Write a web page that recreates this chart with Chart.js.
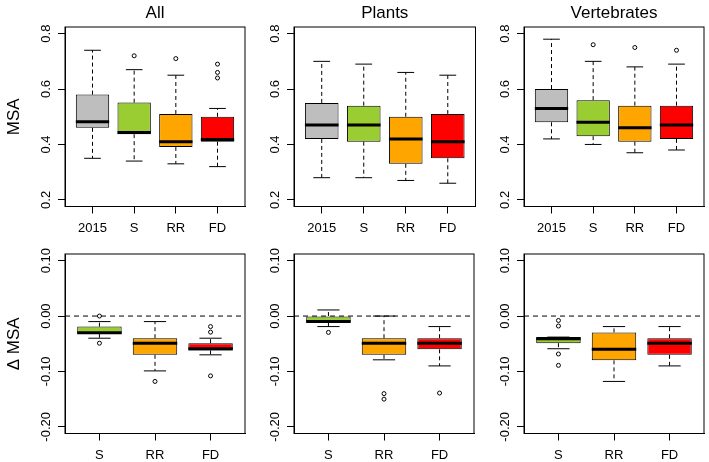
<!DOCTYPE html>
<html><head><meta charset="utf-8">
<script src="https://cdn.jsdelivr.net/npm/chart.js@4"></script>
<style>
html,body{margin:0;padding:0;background:#fff;overflow:hidden;width:709px;height:462px}
canvas{position:absolute}
</style></head><body>
<script>
// ---------- DATA ----------
const panelTitles = ['All', 'Plants', 'Vertebrates'];
const topCategories = ['2015', 'S', 'RR', 'FD'];
const bottomCategories = ['S', 'RR', 'FD'];
const topTicks = [0.2, 0.4, 0.6, 0.8];
const bottomTicks = [-0.2, -0.1, 0.0, 0.1];
const topYLabel = 'MSA';
const bottomYLabel = '\u0394 MSA';

// each box: [lower whisker, Q1, median, Q3, upper whisker]
const msaAll        = [[0.35, 0.46, 0.482, 0.58, 0.74], [0.34, 0.437, 0.443, 0.551, 0.67], [0.33, 0.391, 0.41, 0.51, 0.65], [0.32, 0.41, 0.418, 0.50, 0.53]];
const msaAllOut     = [[], [0.72], [0.71], [0.69, 0.66, 0.64]];
const msaPlants     = [[0.28, 0.42, 0.47, 0.55, 0.70], [0.28, 0.41, 0.47, 0.54, 0.69], [0.27, 0.33, 0.42, 0.50, 0.66], [0.26, 0.35, 0.41, 0.51, 0.65]];
const msaPlantsOut  = [[], [], [], []];
const msaVert       = [[0.42, 0.48, 0.53, 0.60, 0.78], [0.40, 0.43, 0.48, 0.56, 0.70], [0.37, 0.41, 0.46, 0.54, 0.68], [0.38, 0.42, 0.47, 0.54, 0.69]];
const msaVertOut    = [[], [0.76], [0.75], [0.74]];

const dAll          = [[-0.040, -0.032, -0.030, -0.019, -0.010], [-0.099, -0.070, -0.049, -0.040, -0.010], [-0.070, -0.062, -0.059, -0.049, -0.040]];
const dAllOut       = [[0.0, -0.049], [-0.118], [-0.019, -0.029, -0.108]];
const dPlants       = [[-0.019, -0.012, -0.010, 0.0, 0.011], [-0.079, -0.070, -0.049, -0.040, 0.0], [-0.090, -0.060, -0.049, -0.040, -0.019]];
const dPlantsOut    = [[-0.0295], [-0.140, -0.150], [-0.139]];
const dVert         = [[-0.059, -0.049, -0.041, -0.038, -0.038], [-0.118, -0.080, -0.060, -0.0295, -0.019], [-0.090, -0.070, -0.049, -0.040, -0.019]];
const dVertOut      = [[-0.008, -0.018, -0.0685, -0.089], [], []];

const boxColors = {'2015': '#bebebe', 'S': '#9acd32', 'RR': '#ffa500', 'FD': '#ff0000'};

// ---------- LAYOUT ----------
const FONT = "'Liberation Sans', Arial, sans-serif";
const colLeft = [0, 229, 459];
const rowTop = [0, 227];
const CW = 250, CH = 235;

function makePanel(col, row, cats, stats, outs, ticks, yRange, yLabel, title, zeroLine, fmt) {
  const cv = document.createElement('canvas');
  cv.width = CW; cv.height = CH;
  cv.style.left = colLeft[col] + 'px';
  cv.style.top = rowTop[row] + 'px';
  cv.style.width = CW + 'px'; cv.style.height = CH + 'px';
  document.body.appendChild(cv);

  const boxData = stats.map((s, i) => ({x: i + 1, y: [s[1], s[3]]}));
  const outData = [];
  outs.forEach((arr, i) => arr.forEach(v => outData.push({x: i + 1, y: v})));
  const n = cats.length;
  const xmin = 0.5 - n * 0.04, xmax = n + 0.5 + n * 0.04;

  const plugin = {
    id: 'boxextras',
    beforeDatasetsDraw(chart) {
      const {ctx, chartArea: a, scales: {x, y}} = chart;
      ctx.save();
      ctx.beginPath(); ctx.rect(a.left, a.top, a.right - a.left, a.bottom - a.top); ctx.clip();
      ctx.strokeStyle = '#000'; ctx.lineWidth = 1;
      if (zeroLine) {
        ctx.setLineDash([5, 4]);
        const py = y.getPixelForValue(0);
        ctx.beginPath(); ctx.moveTo(a.left, py); ctx.lineTo(a.right, py); ctx.stroke();
      }
      stats.forEach((s, i) => {
        const cx = x.getPixelForValue(i + 1);
        const sl = x.getPixelForValue(i + 1 - 0.2), sr = x.getPixelForValue(i + 1 + 0.2);
        ctx.setLineDash([4, 3]);
        ctx.beginPath();
        ctx.moveTo(cx, y.getPixelForValue(s[3])); ctx.lineTo(cx, y.getPixelForValue(s[4]));
        ctx.moveTo(cx, y.getPixelForValue(s[1])); ctx.lineTo(cx, y.getPixelForValue(s[0]));
        ctx.stroke();
        ctx.setLineDash([]);
        ctx.beginPath();
        ctx.moveTo(sl, y.getPixelForValue(s[4])); ctx.lineTo(sr, y.getPixelForValue(s[4]));
        ctx.moveTo(sl, y.getPixelForValue(s[0])); ctx.lineTo(sr, y.getPixelForValue(s[0]));
        ctx.stroke();
      });
      ctx.restore();
    },
    afterDatasetsDraw(chart) {
      const {ctx, scales: {x, y}} = chart;
      ctx.save();
      ctx.strokeStyle = '#000'; ctx.lineWidth = 3; ctx.lineCap = 'butt';
      stats.forEach((s, i) => {
        const l = x.getPixelForValue(i + 1 - 0.4), r = x.getPixelForValue(i + 1 + 0.4);
        const py = y.getPixelForValue(s[2]);
        ctx.beginPath(); ctx.moveTo(l, py); ctx.lineTo(r, py); ctx.stroke();
      });
      ctx.restore();
    },
    afterDraw(chart) {
      const {ctx, chartArea: a, scales: {y}} = chart;
      ctx.save();
      ctx.strokeStyle = '#000'; ctx.lineWidth = 1;
      ctx.strokeRect(a.left, a.top, a.right - a.left, a.bottom - a.top);
      ctx.fillStyle = '#000';
      ctx.font = '13px ' + FONT;
      ctx.textAlign = 'center'; ctx.textBaseline = 'alphabetic';
      ticks.forEach(t => {
        const py = y.getPixelForValue(t);
        ctx.save(); ctx.translate(a.left - 15, py); ctx.rotate(-Math.PI / 2);
        ctx.fillText(fmt(t), 0, 0); ctx.restore();
      });
      if (title) {
        ctx.font = '17px ' + FONT;
        ctx.fillText(title, (a.left + a.right) / 2, 18);
      }
      if (yLabel) {
        ctx.font = '17px ' + FONT;
        ctx.save(); ctx.translate(18.5, (a.top + a.bottom) / 2); ctx.rotate(-Math.PI / 2);
        ctx.fillText(yLabel, 0, 0); ctx.restore();
      }
      ctx.restore();
    }
  };

  new Chart(cv, {
    type: 'bar',
    data: {
      datasets: [
        {
          type: 'bar',
          data: boxData,
          backgroundColor: cats.map(c => boxColors[c]),
          borderColor: '#000',
          borderWidth: 1,
          borderSkipped: false,
          barPercentage: 0.8,
          categoryPercentage: 1
        },
        {
          type: 'line',
          data: outData,
          showLine: false,
          pointRadius: 2,
          pointBorderWidth: 1,
          pointBackgroundColor: 'rgba(0,0,0,0)',
          pointBorderColor: '#000'
        }
      ]
    },
    options: {
      responsive: false,
      devicePixelRatio: 1,
      animation: false,
      events: [],
      layout: {padding: {left: 58, top: 27, right: 3.5, bottom: 0}},
      plugins: {legend: {display: false}, tooltip: {enabled: false}, title: {display: false}},
      scales: {
        x: {
          type: 'linear', offset: false,
          min: xmin, max: xmax,
          afterBuildTicks(s) { s.ticks = cats.map((c, i) => ({value: i + 1})); },
          afterFit(s) { s.height = 28.5; },
          grid: {offset: false, drawOnChartArea: false, drawTicks: true, tickLength: 7, color: '#000'},
          border: {display: true, color: '#000'},
          ticks: {
            autoSkip: false, maxRotation: 0, padding: 7, color: '#000',
            font: {family: FONT, size: 13},
            callback: (v) => cats[Math.round(v) - 1] || ''
          }
        },
        y: {
          type: 'linear',
          min: yRange[0], max: yRange[1],
          afterBuildTicks(s) { s.ticks = ticks.map(t => ({value: t})); },
          afterFit(s) { s.width = 7; },
          grid: {offset: false, drawOnChartArea: false, drawTicks: true, tickLength: 7, color: '#000'},
          border: {display: true, color: '#000'},
          ticks: {display: false}
        }
      }
    },
    plugins: [plugin]
  });
}

const fmtTop = v => v.toFixed(1);
const fmtBot = v => v.toFixed(2);
const topRange = [0.176, 0.824];
const botRange = [-0.212, 0.112];

makePanel(0, 0, topCategories, msaAll, msaAllOut, topTicks, topRange, topYLabel, panelTitles[0], false, fmtTop);
makePanel(1, 0, topCategories, msaPlants, msaPlantsOut, topTicks, topRange, null, panelTitles[1], false, fmtTop);
makePanel(2, 0, topCategories, msaVert, msaVertOut, topTicks, topRange, null, panelTitles[2], false, fmtTop);
makePanel(0, 1, bottomCategories, dAll, dAllOut, bottomTicks, botRange, bottomYLabel, null, true, fmtBot);
makePanel(1, 1, bottomCategories, dPlants, dPlantsOut, bottomTicks, botRange, null, null, true, fmtBot);
makePanel(2, 1, bottomCategories, dVert, dVertOut, bottomTicks, botRange, null, null, true, fmtBot);
</script>
</body></html>
